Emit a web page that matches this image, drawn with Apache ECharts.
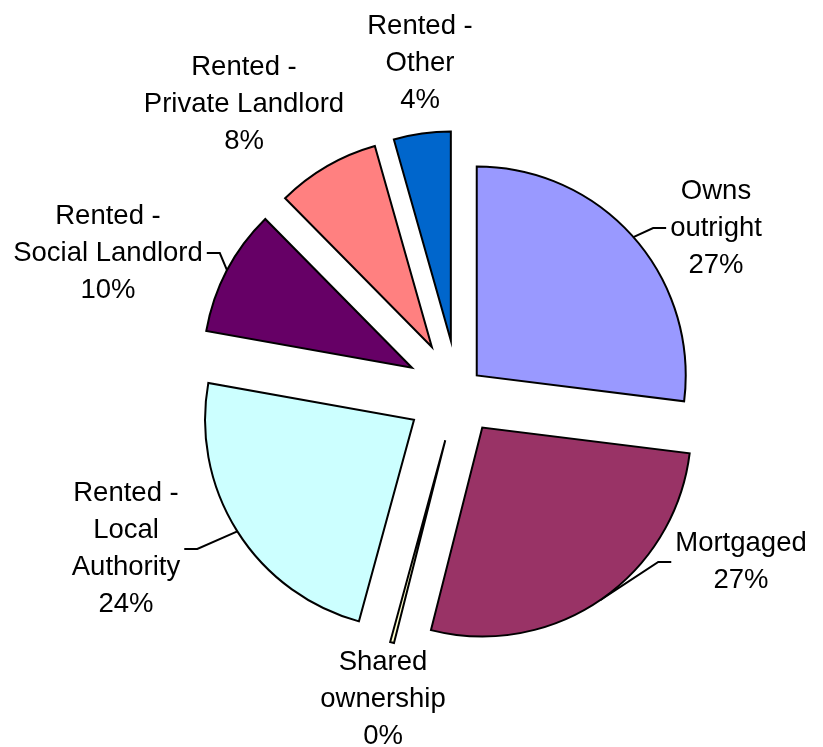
<!DOCTYPE html>
<html>
<head>
<meta charset="utf-8">
<script src="https://cdn.jsdelivr.net/npm/echarts@6/dist/echarts.min.js"></script>
<style>
  html, body { margin: 0; padding: 0; background: #fff; }
  #chart { width: 823px; height: 747px; }
</style>
</head>
<body>
<div id="chart"></div>
<script>
  // tenure, clockwise from 12 o'clock
  var categories = ['Owns\noutright', 'Mortgaged', 'Shared\nownership', 'Rented -\nLocal\nAuthority',
                    'Rented -\nSocial Landlord', 'Rented -\nPrivate Landlord', 'Rented -\nOther'];
  var shares = [27.0, 27.0, 0.3, 23.6, 9.8, 8.0, 4.4];
  var colors = ['#9999FF', '#993366', '#FFFFCC', '#CCFFFF', '#660066', '#FF8080', '#0066CC'];

  // layout (excel style exploded pie, each slice pulled out by its own amount)
  var pieCenter = [458, 392];
  var pieRadius = 209;
  var explode = [25, 43, 50, 52, 52, 52, 52];
  var labelPos = [[716, 228], [741, 562], [383, 699], [126, 549], [108, 253], [244, 104], [420, 63]];
  var hasLeader = [true, true, false, true, true, false, false];

  var chart = echarts.init(document.getElementById('chart'));
  var total = shares.reduce(function (a, b) { return a + b; }, 0);

  var series = [];
  var acc = 0;
  for (var i = 0; i < shares.length; i++) {
    var mid = (acc + shares[i] / 2) / total * Math.PI * 2;
    acc += shares[i];
    var sx = Math.sin(mid), sy = -Math.cos(mid);
    var c = [pieCenter[0] + explode[i] * sx, pieCenter[1] + explode[i] * sy];
    var arcPt = [c[0] + pieRadius * sx, c[1] + pieRadius * sy];

    series.push({
      type: 'pie',
      center: c,
      radius: pieRadius,
      startAngle: 90,
      clockwise: true,
      avoidLabelOverlap: false,
      animation: false,
      silent: true,
      emphasis: { disabled: true },
      itemStyle: { borderColor: '#000', borderWidth: 2, borderJoin: 'miter' },
      label: {
        show: true,
        position: 'outside',
        color: '#000',
        fontSize: 27.5,
        lineHeight: 37,
        fontFamily: '"Liberation Sans", Arial, sans-serif',
        formatter: function (p) { return p.name + '\n' + Math.round(p.percent) + '%'; }
      },
      labelLine: { show: true, length: 10, length2: 10, lineStyle: { color: '#000', width: 2 } },
      labelLayout: (function (k, ap) {
        return function (params) {
          if (params.dataIndex !== k) return {};
          var x = labelPos[k][0], y = labelPos[k][1];
          var out = { x: x, y: y, align: 'center', verticalAlign: 'middle', hideOverlap: false };
          if (hasLeader[k]) {
            var half = params.labelRect.width / 2;
            var right = ap[0] > x;
            var ex = right ? x + half + 4 : x - half - 4;
            var bx = right ? ex + 13 : ex - 13;
            out.labelLinePoints = [ap, [bx, y], [ex, y]];
          }
          return out;
        };
      })(i, arcPt),
      data: shares.map(function (v, j) {
        if (j === i) {
          return { value: v, name: categories[j], itemStyle: { color: colors[j] },
                   label: { show: true }, labelLine: { show: hasLeader[j] } };
        }
        return { value: v, name: categories[j],
                 itemStyle: { color: 'rgba(0,0,0,0)', borderWidth: 0 },
                 label: { show: false }, labelLine: { show: false } };
      })
    });
  }

  chart.setOption({
    backgroundColor: '#fff',
    series: series
  });
</script>
</body>
</html>
